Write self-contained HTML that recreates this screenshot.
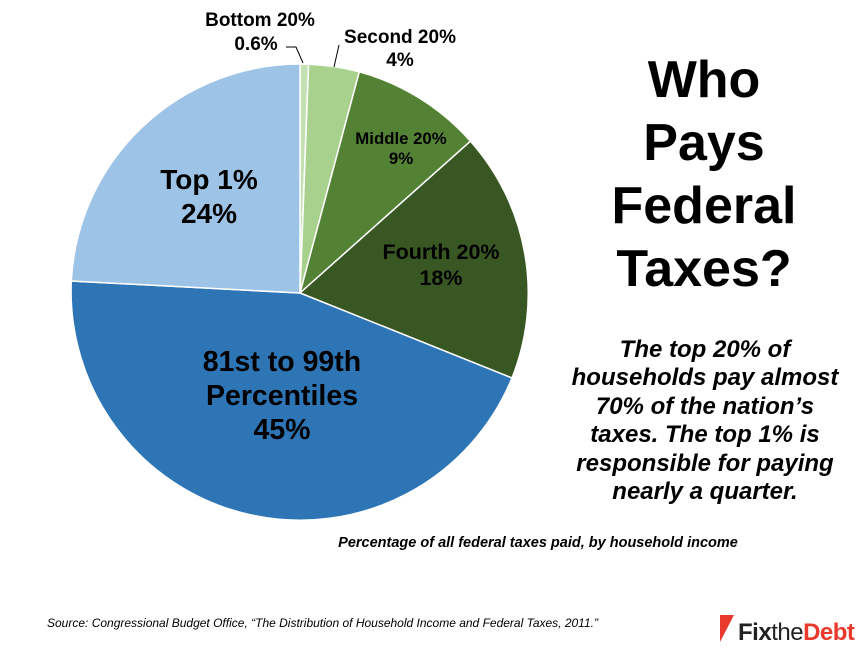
<!DOCTYPE html>
<html><head><style>
body{margin:0;background:#fff;}
svg{display:block;font-family:"Liberation Sans",Arial,sans-serif;}
</style></head><body>
<svg width="868" height="649" viewBox="0 0 868 649">
<g stroke="#fff" stroke-width="1.5">
<path d="M300,293 L300,64 A229,229 0 0 1 308.6,64.2 Z" fill="#c5e0b3"/>
<path d="M300,293 L308.6,64.2 A229,229 0 0 1 359.3,71.8 Z" fill="#a9d18e"/>
<path d="M300,293 L359.3,71.8 A229,229 0 0 1 470.5,141.2 Z" fill="#548235"/>
<path d="M300,293 L470.5,141.2 A229,229 0 0 1 512,378 Z" fill="#385723"/>
<path d="M300,293 L512,378 A229,229 0 0 1 71.3,281 Z" fill="#2e75b6"/>
<path d="M300,293 L71.3,281 A229,229 0 0 1 300,64 Z" fill="#9dc3e6"/>
</g>
<g stroke="#000" stroke-width="1" fill="none">
<polyline points="286,47 296,47 303,63"/>
<line x1="339" y1="45" x2="334" y2="67"/>
</g>
<g font-weight="bold" text-anchor="middle" fill="#000">
<text x="260" y="26" font-size="19">Bottom 20%</text>
<text x="256" y="50" font-size="19">0.6%</text>
<text x="400" y="43" font-size="19">Second 20%</text>
<text x="400" y="66" font-size="19">4%</text>
<text x="401" y="144" font-size="16.8">Middle 20%</text>
<text x="401" y="164" font-size="16.8">9%</text>
<text x="441" y="259" font-size="21.5">Fourth 20%</text>
<text x="441" y="285" font-size="21.5">18%</text>
<text x="209" y="189" font-size="28">Top 1%</text>
<text x="209" y="223" font-size="28">24%</text>
<text x="282" y="371" font-size="28.5">81st to 99th</text>
<text x="282" y="405" font-size="28.5">Percentiles</text>
<text x="282" y="439" font-size="28.5">45%</text>
<g font-size="52">
<text x="704" y="97">Who</text>
<text x="704" y="160">Pays</text>
<text x="704" y="223">Federal</text>
<text x="704" y="286">Taxes?</text>
</g>
<g font-size="24" font-style="italic">
<text x="705" y="357">The top 20% of</text>
<text x="705" y="385">households pay almost</text>
<text x="705" y="414">70% of the nation’s</text>
<text x="705" y="442">taxes. The top 1% is</text>
<text x="705" y="471">responsible for paying</text>
<text x="705" y="499">nearly a quarter.</text>
</g>
<text x="538" y="547" font-size="14.5" font-style="italic">Percentage of all federal taxes paid, by household income</text>
</g>
<text x="47" y="627" font-size="12" font-style="italic" fill="#000">Source: Congressional Budget Office, “The Distribution of Household Income and Federal Taxes, 2011.”</text>
<polygon points="720,615 734,615 720,642" fill="#e8392c"/>
<text x="738" y="640" font-size="24" letter-spacing="-0.5"><tspan font-weight="bold" fill="#222">Fix</tspan><tspan fill="#222">the</tspan><tspan font-weight="bold" fill="#e8392c">Debt</tspan></text>
</svg>
</body></html>
